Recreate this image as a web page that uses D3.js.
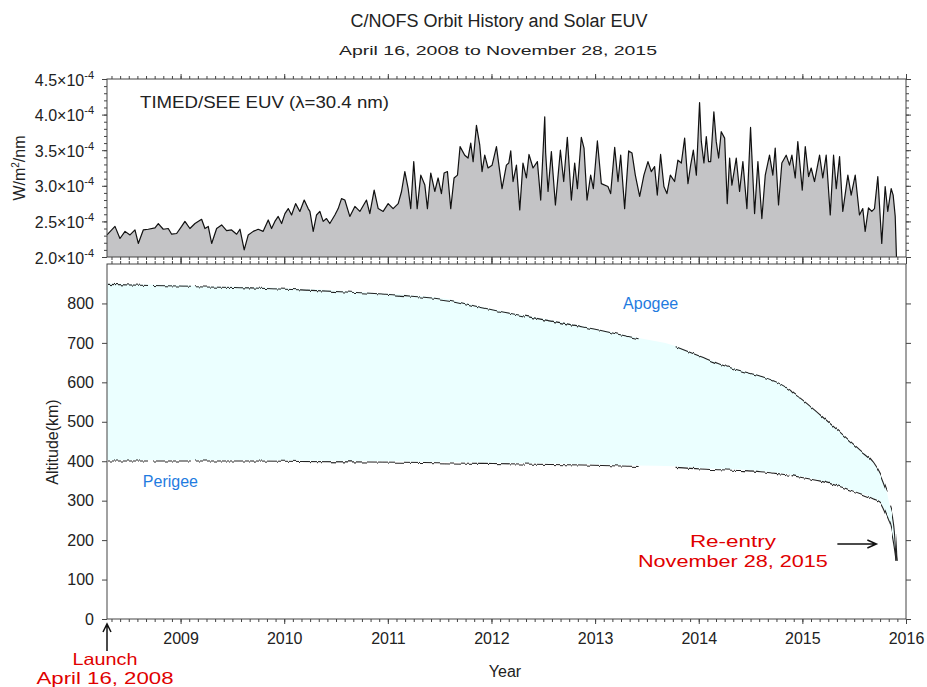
<!DOCTYPE html>
<meta charset="utf-8">
<style>
  body { margin: 0; background: #fff; }
  text { font-family: "Liberation Sans", Arial, sans-serif; fill: #222; }
</style>
<svg width="927" height="687"></svg>
<script src="https://cdn.jsdelivr.net/npm/d3@7"></script>
<script>

// EUV irradiance, units of 1e-4 W/m^2/nm
var euvYear = [
  2008.290, 2008.367, 2008.415, 2008.464, 2008.512, 2008.560, 2008.592, 2008.640, 2008.688, 2008.753,
  2008.785, 2008.833, 2008.881, 2008.914, 2008.962, 2009.010, 2009.042, 2009.090, 2009.139, 2009.203,
  2009.235, 2009.267, 2009.300, 2009.348, 2009.396, 2009.444, 2009.492, 2009.541, 2009.573, 2009.614,
  2009.653, 2009.701, 2009.749, 2009.797, 2009.846, 2009.878, 2009.910, 2009.942, 2009.975, 2010.007,
  2010.039, 2010.071, 2010.110, 2010.151, 2010.193, 2010.231,
  2010.248, 2010.280, 2010.312, 2010.344, 2010.376, 2010.408, 2010.440, 2010.489, 2010.521, 2010.553,
  2010.585, 2010.633, 2010.682, 2010.730, 2010.794, 2010.826, 2010.868, 2010.907, 2010.955, 2011.003,
  2011.051, 2011.100, 2011.132, 2011.164, 2011.196, 2011.221, 2011.250, 2011.283, 2011.318, 2011.357,
  2011.382, 2011.414, 2011.453, 2011.485, 2011.517, 2011.543, 2011.575, 2011.607, 2011.639, 2011.672,
  2011.697, 2011.742, 2011.774, 2011.800, 2011.823, 2011.855, 2011.887, 2011.909, 2011.935, 2011.967,
  2012.006, 2012.048, 2012.080, 2012.102, 2012.144, 2012.167,
  2012.186, 2012.208, 2012.241, 2012.273, 2012.304, 2012.337, 2012.362, 2012.401, 2012.443, 2012.475,
  2012.514, 2012.523, 2012.546, 2012.578, 2012.617, 2012.665, 2012.697, 2012.732, 2012.771, 2012.803,
  2012.829, 2012.867, 2012.893, 2012.922, 2012.957, 2012.983, 2013.022, 2013.060, 2013.124, 2013.150,
  2013.189, 2013.221, 2013.247, 2013.285, 2013.324, 2013.356, 2013.388, 2013.430, 2013.471, 2013.510,
  2013.542, 2013.574, 2013.600, 2013.632, 2013.664, 2013.693, 2013.726, 2013.767, 2013.799, 2013.832,
  2013.864, 2013.896, 2013.922, 2013.948, 2013.977, 2014.008, 2014.025, 2014.050, 2014.073, 2014.095,
  2014.115, 2014.146, 2014.169, 2014.192, 2014.217, 2014.250, 2014.275, 2014.298, 2014.320, 2014.362,
  2014.394, 2014.426, 2014.465, 2014.500, 2014.539, 2014.571, 2014.609, 2014.642, 2014.683, 2014.715,
  2014.738, 2014.770, 2014.802, 2014.844, 2014.876, 2014.899, 2014.931, 2014.956, 2014.999, 2015.028,
  2015.060, 2015.085, 2015.117, 2015.166, 2015.197, 2015.230, 2015.269, 2015.301, 2015.327, 2015.359,
  2015.390, 2015.439, 2015.471, 2015.510, 2015.551, 2015.583, 2015.606, 2015.638, 2015.670, 2015.696,
  2015.728, 2015.766, 2015.799, 2015.824, 2015.857, 2015.876, 2015.896, 2015.908
];
var euvValue = [
  2.31, 2.43, 2.26, 2.36, 2.31, 2.38, 2.19, 2.38, 2.39, 2.41,
  2.47, 2.39, 2.40, 2.32, 2.33, 2.43, 2.50, 2.40, 2.47, 2.53,
  2.40, 2.43, 2.19, 2.40, 2.45, 2.37, 2.38, 2.32, 2.39, 2.10,
  2.31, 2.36, 2.39, 2.36, 2.52, 2.40, 2.50, 2.57, 2.47, 2.61,
  2.68, 2.59, 2.75, 2.64, 2.80, 2.68,
  2.64, 2.36, 2.59, 2.64, 2.50, 2.54, 2.47, 2.59, 2.68, 2.82,
  2.80, 2.57, 2.71, 2.64, 2.80, 2.61, 2.94, 2.68, 2.64, 2.75,
  2.68, 2.75, 2.92, 3.20, 2.96, 2.68, 3.34, 2.68, 3.15, 3.01,
  2.68, 3.18, 2.92, 3.11, 2.89, 3.18, 3.20, 2.68, 3.11, 3.15,
  3.55, 3.43, 3.39, 3.60, 3.34, 3.85, 3.57, 3.20, 3.43, 3.25,
  3.29, 3.55, 3.20, 2.96, 3.29, 3.32,
  3.49, 3.06, 3.29, 2.66, 3.32, 3.11, 3.44, 3.25, 3.34, 2.80,
  3.97, 3.46, 2.92, 3.48, 2.73, 3.50, 3.06, 3.68, 2.80, 3.32,
  2.96, 3.68, 3.53, 2.80, 3.15, 2.96, 3.63, 3.03, 2.99, 2.89,
  3.54, 3.06, 3.43, 2.68, 3.49, 3.46, 3.15, 2.85, 3.15, 3.34,
  3.20, 3.27, 2.87, 3.44, 2.99, 2.89, 3.15, 3.06, 3.36, 3.32,
  3.67, 3.03, 3.29, 3.50, 3.15, 4.17, 3.62, 3.32, 3.69, 3.34,
  3.34, 4.04, 3.62, 3.39, 3.76, 3.67, 2.75, 3.39, 3.01, 3.39,
  2.92, 3.34, 2.68, 3.82, 2.61, 3.34, 2.54, 3.15, 3.43, 3.15,
  3.53, 2.73, 3.32, 3.43, 3.29, 3.43, 3.11, 3.62, 2.94, 3.55,
  3.13, 3.25, 3.06, 3.43, 3.11, 3.43, 2.59, 3.43, 2.96, 3.41,
  2.64, 3.15, 2.87, 3.15, 2.59, 2.68, 2.36, 2.69, 2.64, 2.68,
  3.13, 2.19, 2.99, 2.64, 2.96, 2.87, 2.57, 2.00
];

// orbit apogee / perigee (km), null = no data
var orbitYear = [
  2008.290, 2008.685, 2008.705, 2008.724, 2009.090, 2009.110, 2009.129, 2009.669, 2010.151, 2010.633,
  2011.115, 2011.598, 2011.916, 2012.398, 2012.880, 2013.410, 2013.590, 2013.767, 2014.008, 2014.201,
  2014.394, 2014.587, 2014.780, 2014.866, 2014.876, 2014.886, 2014.973, 2015.166, 2015.358, 2015.551,
  2015.677, 2015.744, 2015.809, 2015.825, 2015.841, 2015.870, 2015.889, 2015.904
];
var apogeeKm = [
  851, 848, null, 848, 846, null, 845, 842, 837, 831,
  823, 810, 791, 766, 743, 713, null, 693, 668, 648,
  632, 618, 598, 584, 582, 579, 562, 519, 475, 430,
  400, 371, 328, null, 290, 260, 219, 150
];
var perigeeKm = [
  403, 403, null, 403, 403, null, 403, 403, 402, 401,
  400, 398, 397, 395, 393, 389, null, 387, 383, 381,
  379, 376, 370, 367, null, 366, 362, 352, 338, 320,
  307, 298, 265, 255, 245, 210, 180, 150
];

var yearTicks = [2009, 2010, 2011, 2012, 2013, 2014, 2015, 2016];
var euvTicks = [2.0, 2.5, 3.0, 3.5, 4.0, 4.5];
var altTicks = [0, 100, 200, 300, 400, 500, 600, 700, 800];

var launchYear = 2008.290, reentryYear = 2015.907;

var svg = d3.select("svg");
var hershey = "Lato";
var axisColor = "#444";

var left = 107, right = 906;
var topY0 = 79, topY1 = 257;
var botY0 = 264, botY1 = 619;

var x = d3.scaleLinear().domain([launchYear, 2016]).range([left, right]);
var yTop = d3.scaleLinear().domain([2.0, 4.5]).range([topY1, topY0]);
var yBot = d3.scaleLinear().domain([0, 900]).range([botY1, botY0]);

var monthTicks = d3.range(2008 * 12 + 4, 2016 * 12 + 1).map(function(m) { return m / 12; });
var euvMinor = d3.range(20, 46).map(function(v) { return v / 10; });

// slight waviness of the orbit traces
var wob = svg.append("defs").append("filter")
    .attr("id", "wobble").attr("filterUnits", "userSpaceOnUse")
    .attr("x", 0).attr("y", 0).attr("width", 927).attr("height", 687);
wob.append("feTurbulence").attr("type", "turbulence")
    .attr("baseFrequency", "0.09 0").attr("numOctaves", 1).attr("seed", 3).attr("result", "n");
wob.append("feDisplacementMap").attr("in", "SourceGraphic").attr("in2", "n")
    .attr("scale", 3).attr("xChannelSelector", "A").attr("yChannelSelector", "R");

// ---------- top panel ----------
var topG = svg.append("g");
var euv = euvYear.map(function(t, i) { return [t, euvValue[i]]; });

topG.append("path")
    .datum(euv)
    .attr("fill", "#c4c4c6")
    .attr("d", d3.area()
        .x(function(d) { return x(d[0]); })
        .y0(yTop(2.0))
        .y1(function(d) { return yTop(d[1]); }));

topG.append("path")
    .datum(euv)
    .attr("fill", "none")
    .attr("stroke", "#111")
    .attr("stroke-width", 1.2)
    .attr("stroke-linejoin", "round")
    .attr("d", d3.line()
        .x(function(d) { return x(d[0]); })
        .y(function(d) { return yTop(d[1]); }));

// ---------- bottom panel ----------
var botG = svg.append("g");
var orbit = orbitYear.map(function(t, i) { return { t: t, a: apogeeKm[i], p: perigeeKm[i] }; });

botG.append("path")
    .datum(orbit.filter(function(d) { return d.a != null && d.p != null; }))
    .attr("fill", "#ebffff")
    .attr("d", d3.area().curve(d3.curveMonotoneX)
        .x(function(d) { return x(d.t); })
        .y0(function(d) { return yBot(d.p); })
        .y1(function(d) { return yBot(d.a); }));

var traces = botG.append("g").attr("filter", "url(#wobble)");
["a", "p"].forEach(function(k) {
  traces.append("path")
      .datum(orbit)
      .attr("fill", "none")
      .attr("stroke", "#222")
      .attr("stroke-width", 1.1)
      .attr("d", d3.line().curve(d3.curveMonotoneX)
          .defined(function(d) { return d[k] != null; })
          .x(function(d) { return x(d.t); })
          .y(function(d) { return yBot(d[k]); }));
});

// ---------- axes ----------
function styleAxis(g) {
  g.select(".domain").remove();
  g.selectAll("line").attr("stroke", axisColor);
  g.selectAll("text").attr("font-family", "Liberation Sans").attr("font-size", 16).attr("fill", "#222");
}

function xAxes(y, gen, labels) {
  svg.append("g").attr("transform", "translate(0," + y + ")")
      .call(gen(x).tickValues(monthTicks).tickSize(3).tickFormat(""))
      .call(styleAxis);
  svg.append("g").attr("transform", "translate(0," + y + ")")
      .call(gen(x).tickValues(yearTicks).tickSize(5).tickPadding(9)
          .tickFormat(labels ? d3.format("d") : ""))
      .call(styleAxis);
}
xAxes(topY0, d3.axisTop, false);
xAxes(topY1, d3.axisBottom, false);
xAxes(botY0, d3.axisTop, false);
xAxes(botY1, d3.axisBottom, true);

// top panel y axes
[[left, d3.axisLeft], [right, d3.axisRight]].forEach(function(s, i) {
  svg.append("g").attr("transform", "translate(" + s[0] + ",0)")
      .call(s[1](yTop).tickValues(euvMinor).tickSize(3).tickFormat(""))
      .call(styleAxis);
  var g = svg.append("g").attr("transform", "translate(" + s[0] + ",0)")
      .call(s[1](yTop).tickValues(euvTicks).tickSize(5).tickPadding(8).tickFormat(""))
      .call(styleAxis);
  if (i == 0) {
    g.selectAll(".tick text").each(function(d) {
      var t = d3.select(this).attr("dy", "0.38em");
      t.append("tspan").text(d.toFixed(1) + "×10");
      t.append("tspan").attr("dy", -7).attr("font-size", 11).text("-4");
    });
  }
});

// bottom panel y axes
svg.append("g").attr("transform", "translate(" + left + ",0)")
    .call(d3.axisLeft(yBot).tickValues(altTicks).tickSize(5).tickPadding(8))
    .call(styleAxis);
svg.append("g").attr("transform", "translate(" + right + ",0)")
    .call(d3.axisRight(yBot).tickValues(altTicks).tickSize(5).tickFormat(""))
    .call(styleAxis);

// frames
[[topY0, topY1], [botY0, botY1]].forEach(function(p) {
  svg.append("rect")
      .attr("x", left).attr("y", p[0])
      .attr("width", right - left).attr("height", p[1] - p[0])
      .attr("fill", "none").attr("stroke", axisColor).attr("stroke-width", 1);
});

// ---------- text ----------
function vector(sel, size, len) {
  return sel.attr("font-family", hershey).attr("font-weight", 300).attr("font-size", size)
      .attr("textLength", len).attr("lengthAdjust", "spacingAndGlyphs");
}

svg.append("text").attr("x", 499).attr("y", 27)
    .attr("text-anchor", "middle").attr("font-size", 18)
    .text("C/NOFS Orbit History and Solar EUV");

svg.append("text").attr("x", 498).attr("y", 55).attr("text-anchor", "middle")
    .call(vector, 13.5, 318)
    .text("April 16, 2008 to November 28, 2015");

svg.append("text").attr("x", left + 33).attr("y", topY0 + 29)
    .call(vector, 16.5, 249)
    .text("TIMED/SEE EUV (λ=30.4 nm)");

var wl = svg.append("text").attr("transform", "translate(25,168) rotate(-90)")
    .attr("text-anchor", "middle").attr("font-size", 16);
wl.append("tspan").text("W/m");
wl.append("tspan").attr("dy", -6).attr("font-size", 10).text("2");
wl.append("tspan").attr("dy", 6).text("/nm");

svg.append("text").attr("transform", "translate(58,442) rotate(-90)")
    .attr("text-anchor", "middle").attr("font-size", 16)
    .text("Altitude(km)");

svg.append("text").attr("x", 505).attr("y", 677)
    .attr("text-anchor", "middle").attr("font-size", 16)
    .text("Year");

var blue = "#1f7be0", red = "#e00000";
svg.append("text").attr("x", x(2013.536)).attr("y", yBot(785))
    .attr("text-anchor", "middle").attr("font-size", 16).style("fill", blue)
    .text("Apogee");
svg.append("text").attr("x", x(2008.902)).attr("y", yBot(334))
    .attr("text-anchor", "middle").attr("font-size", 16).style("fill", blue)
    .text("Perigee");

svg.append("text").attr("x", x(2014.33)).attr("y", yBot(183)).attr("text-anchor", "middle")
    .call(vector, 17, 86).style("fill", red)
    .text("Re-entry");
svg.append("text").attr("x", x(2014.33)).attr("y", yBot(133)).attr("text-anchor", "middle")
    .call(vector, 17, 190).style("fill", red)
    .text("November 28, 2015");

svg.append("text").attr("x", x(launchYear) - 2).attr("y", 665).attr("text-anchor", "middle")
    .call(vector, 16.5, 65).style("fill", red)
    .text("Launch");
svg.append("text").attr("x", x(launchYear) - 2).attr("y", 684).attr("text-anchor", "middle")
    .call(vector, 16.5, 137).style("fill", red)
    .text("April 16, 2008");

// arrows
var ay = yBot(190), ax1 = x(reentryYear) - 20, ax0 = x(reentryYear) - 59;
svg.append("path")
    .attr("d", "M" + ax0 + "," + ay + "H" + ax1 + "M" + (ax1 - 9) + "," + (ay - 4) + "L" + ax1 + "," + ay + "L" + (ax1 - 9) + "," + (ay + 4))
    .attr("fill", "none").attr("stroke", "#111").attr("stroke-width", 1.5);

var lx = x(launchYear), ly0 = botY1 + 5, ly1 = botY1 + 32;
svg.append("path")
    .attr("d", "M" + lx + "," + ly1 + "V" + ly0 + "M" + (lx - 4) + "," + (ly0 + 8) + "L" + lx + "," + ly0 + "L" + (lx + 4) + "," + (ly0 + 8))
    .attr("fill", "none").attr("stroke", "#111").attr("stroke-width", 1.5);

</script>
